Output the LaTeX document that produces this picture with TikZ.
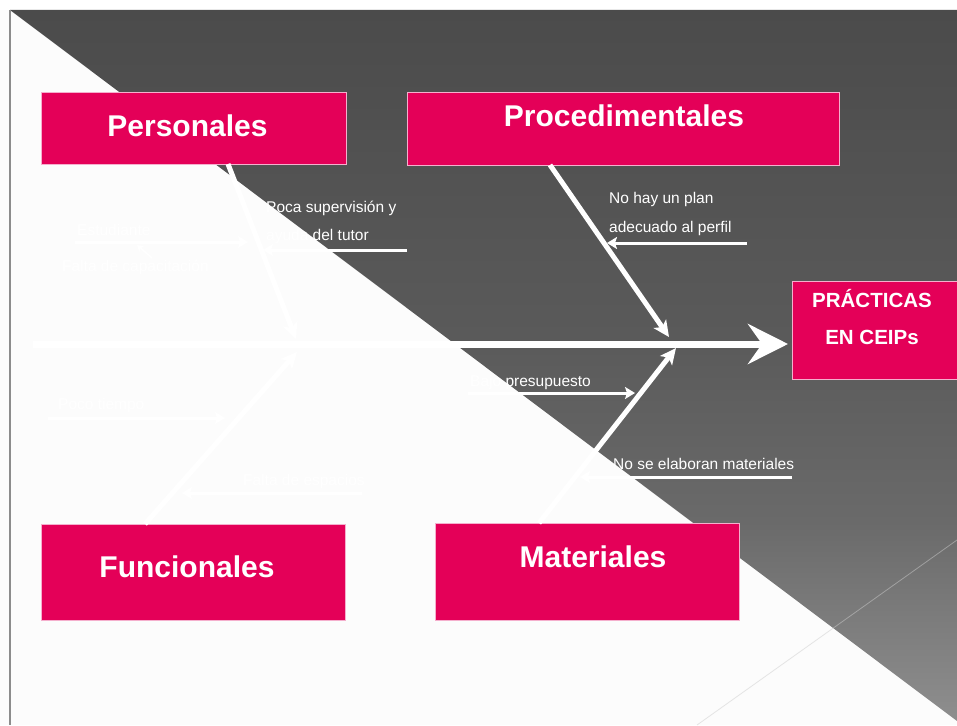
\documentclass[tikz,border=0pt]{standalone}
\usepackage{fontspec}
\setmainfont{Liberation Sans}
\usetikzlibrary{arrows.meta}
\definecolor{pinkbox}{RGB}{228,0,88}
\definecolor{pinkedge}{RGB}{245,175,205}
\definecolor{bgwhite}{RGB}{252,252,252}
\definecolor{edgegray}{RGB}{140,140,140}
\definecolor{faintline}{RGB}{205,205,205}
\definecolor{gA}{RGB}{75,75,75}
\definecolor{gB}{RGB}{90,90,90}
\definecolor{gC}{RGB}{106,106,106}
\definecolor{gD}{RGB}{122,122,122}
\definecolor{gE}{RGB}{142,142,142}
\pgfdeclareverticalshading{darkgrad}{100bp}{color(0bp)=(gE); color(25bp)=(gE); color(33bp)=(gD); color(39bp)=(gC); color(52bp)=(gB); color(75bp)=(gA); color(100bp)=(gA)}
\tikzset{
  catbox/.style={draw=pinkedge, line width=0.8pt, fill=pinkbox, inner sep=0pt},
  headtxt/.style={text=white, inner sep=0pt, anchor=base, font=\bfseries\fontsize{30}{35}\selectfont},
  efftxt/.style={text=white, inner sep=0pt, anchor=base, font=\bfseries\fontsize{20.5}{24}\selectfont},
  smalltxt/.style={text=white, inner sep=0pt, anchor=base west, font=\fontsize{15.5}{18}\selectfont},
  spine/.style={white, line width=7pt, -{Stealth[length=40pt,width=40pt,inset=14pt]}},
  bone/.style={white, line width=5pt, -{Stealth[length=16pt,width=15pt,inset=4pt]}},
  subarrow/.style={white, line width=3pt, -{Stealth[length=10pt,width=12pt,inset=2pt]}},
  tinyarrow/.style={white, line width=1.5pt, -{Stealth[length=6pt,width=7pt,inset=1pt]}}
}
\begin{document}
\begin{tikzpicture}[x=1pt,y=-1pt]
\useasboundingbox (0,0) rectangle (957,725);
% background
\fill[bgwhite] (0,0) rectangle (957,725);
\fill[white] (0,0) rectangle (957,10);
\shade[shading=darkgrad] (10,10) -- (957,10) -- (957,721) -- cycle;
\draw[edgegray, line width=1.2pt] (10,10) -- (10,725);
\draw[faintline, opacity=0.5, line width=0.8pt] (957,540) -- (697,725);

% category boxes
\node[catbox, minimum width=305pt, minimum height=72pt] (pers) at (193.5,128) {};
\node[catbox, minimum width=432pt, minimum height=73pt] (proc) at (623,128.5) {};
\node[catbox, minimum width=304pt, minimum height=96pt] (func) at (193,572) {};
\node[catbox, minimum width=304pt, minimum height=97pt] (mate) at (587,571.5) {};
\node[catbox, minimum width=168pt, minimum height=98pt] (eff) at (876,330) {};

\node[headtxt] (perst) at (187.5,136) {Personales};
\node[headtxt] (proct) at (624,126) {Procedimentales};
\node[headtxt] (funct) at (187,577) {Funcionales};
\node[headtxt] (matet) at (593,567) {Materiales};
\node[efftxt] (efft1) at (872,307) {PRÁCTICAS};
\node[efftxt] (efft2) at (872,344) {EN CEIPs};

% spine
\coordinate (tail) at (33,344);
\coordinate (head) at (788,344);
\draw[spine] (tail) -- (head);

% bones
\coordinate (persfoot) at (228,164);
\coordinate (perstip) at (296,339);
\coordinate (procfoot) at (550,165);
\coordinate (proctip) at (669,337);
\coordinate (funcfoot) at (145,524);
\coordinate (functip) at (297,352);
\coordinate (matefoot) at (539,523);
\coordinate (matetip) at (676,348);
\draw[bone] (persfoot) -- (perstip);
\draw[bone] (procfoot) -- (proctip);
\draw[bone] (funcfoot) -- (functip);
\draw[bone] (matefoot) -- (matetip);

% sub causes
\coordinate (estA) at (75,242);   \coordinate (estB) at (248,242);
\coordinate (pocaA) at (407,250); \coordinate (pocaB) at (263,250);
\coordinate (planA) at (747,243); \coordinate (planB) at (607,243);
\coordinate (bajoA) at (468,393); \coordinate (bajoB) at (635,393);
\coordinate (noelA) at (792,477); \coordinate (noelB) at (580,477);
\coordinate (tiemA) at (48,418);  \coordinate (tiemB) at (225,418);
\coordinate (espaA) at (362,493); \coordinate (espaB) at (182,493);
\coordinate (capA) at (152,258);  \coordinate (capB) at (137,245);
\draw[subarrow] (estA) -- (estB);
\draw[subarrow] (pocaA) -- (pocaB);
\draw[subarrow] (planA) -- (planB);
\draw[subarrow] (bajoA) -- (bajoB);
\draw[subarrow] (noelA) -- (noelB);
\draw[subarrow] (tiemA) -- (tiemB);
\draw[subarrow] (espaA) -- (espaB);
\draw[tinyarrow] (capA) -- (capB);

% labels
\node[smalltxt] (l1) at (77,235) {Estudiante};
\node[smalltxt] (l2) at (62,271) {Falta de capacitación};
\node[smalltxt] (l3) at (266,212) {Poca supervisión y};
\node[smalltxt] (l4) at (266,240) {ayuda del tutor};
\node[smalltxt] (l5) at (609,203) {No hay un plan};
\node[smalltxt] (l6) at (609,232) {adecuado al perfil};
\node[smalltxt] (l7) at (470,386) {Bajo presupuesto};
\node[smalltxt] (l8) at (613,469) {No se elaboran materiales};
\node[smalltxt] (l9) at (58,409) {Poco tiempo};
\node[smalltxt] (l10) at (243,485) {Falta de espacios};
\end{tikzpicture}
\end{document}
